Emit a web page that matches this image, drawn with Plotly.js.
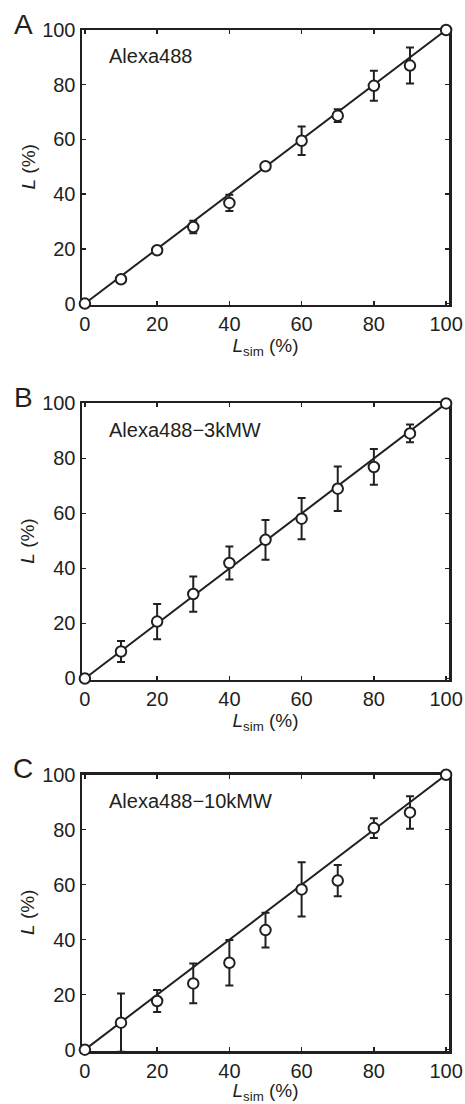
<!DOCTYPE html>
<html><head><meta charset="utf-8">
<script src="https://cdn.plot.ly/plotly-3.0.1.min.js"></script>
<style>html,body{margin:0;padding:0;background:#fff}</style>
</head><body><div id="chart" style="width:465px;height:1104px"></div>
<script>
// ---- data ----
const lsim = [0, 10, 20, 30, 40, 50, 60, 70, 80, 90, 100];
const yA = [0, 8.9, 19.5, 28.0, 36.8, 50.2, 59.5, 68.7, 79.6, 87.0, 100];
const eA = [0, 0.5, 0.5, 2.3, 3.0, 0.5, 5.2, 2.3, 5.5, 6.6, 0];
const yB = [0, 9.8, 20.7, 30.7, 42.0, 50.4, 58.1, 69.0, 76.9, 89.1, 100];
const eB = [0, 3.8, 6.4, 6.4, 6.0, 7.2, 7.5, 8.1, 6.5, 3.2, 0];
const yC = [0, 9.8, 17.7, 24.1, 31.6, 43.5, 58.3, 61.5, 80.6, 86.3, 100];
const eC = [0, 10.6, 4.0, 7.2, 8.3, 6.3, 9.9, 5.7, 3.6, 5.9, 0];
const lineX = [0, 100];
const lineY = [0, 100];
const panelLetters = ['A', 'B', 'C'];
const dyeLabels = ['Alexa488', 'Alexa488\u22123kMW', 'Alexa488\u221210kMW'];
const tickVals = [0, 20, 40, 60, 80, 100];
const xTitle = '<i>L</i><sub>sim</sub> (%)';
const yTitle = '<i>L</i> (%)';

const ink = '#231f20';
const FONT = 'Liberation Sans, Arial, Helvetica, sans-serif';

// ---- layout geometry (pixels) ----
const W = 465, H = 1104;
const L = 82, R = 449.5, T = 29.5, B = 1051.5;
const boxes = [[29.5, 304.7], [403.3, 680], [775, 1051.5]];
const py = p => (B - p) / (B - T);
const px = p => (p - L) / (R - L);

const sets = [[yA, eA], [yB, eB], [yC, eC]];
const traces = [];
const layout = {
  width: W, height: H,
  margin: {l: L, r: W - R, t: T, b: H - B, pad: 0},
  paper_bgcolor: '#fff', plot_bgcolor: '#fff',
  showlegend: false,
  font: {family: FONT, color: ink},
  annotations: []
};

sets.forEach((s, i) => {
  const n = i === 0 ? '' : String(i + 1);
  const xa = 'x' + n, ya = 'y' + n;
  traces.push({x: lineX, y: lineY, xaxis: xa, yaxis: ya, mode: 'lines',
    line: {color: ink, width: 2}, hoverinfo: 'skip', cliponaxis: false});
  traces.push({x: lsim, y: s[0], xaxis: xa, yaxis: ya, mode: 'markers',
    marker: {size: 1, opacity: 0}, cliponaxis: true,
    error_y: {type: 'data', array: s[1], symmetric: true, color: ink, thickness: 2, width: 4}});
  traces.push({x: lsim, y: s[0], xaxis: xa, yaxis: ya, mode: 'markers',
    marker: {symbol: 'circle', size: 10.5, color: '#fff', line: {color: ink, width: 2}},
    cliponaxis: false});
  const common = {
    showline: true, linewidth: 2.5, linecolor: ink, mirror: 'allticks',
    ticks: 'inside', ticklen: 4, tickwidth: 1.5, tickcolor: ink,
    tickvals: tickVals, showgrid: false, zeroline: false, layer: 'below traces',
    tickfont: {family: FONT, size: 20, color: ink}
  };
  layout['xaxis' + n] = Object.assign({}, common, {
    domain: [0, 1], anchor: ya, range: [-0.8, 100.8],
    title: {text: xTitle, font: {family: FONT, size: 19, color: ink}, standoff: 2}
  });
  layout['yaxis' + n] = Object.assign({}, common, {
    domain: [py(boxes[i][1]), py(boxes[i][0])], anchor: xa, range: [-0.5, 100]
  });
  layout.annotations.push({xref: 'paper', yref: ya + ' domain', x: px(28), y: 0.5,
    xanchor: 'center', yanchor: 'middle', textangle: -90,
    text: yTitle, showarrow: false, font: {family: FONT, size: 19, color: ink}});
  layout.annotations.push({xref: xa, yref: ya, x: 6, y: 90.5, xanchor: 'left', yanchor: 'middle',
    text: dyeLabels[i], showarrow: false, font: {family: FONT, size: 20, color: ink}});
  layout.annotations.push({xref: 'paper', yref: 'paper', x: px(23), y: py(boxes[i][0] - 6),
    xanchor: 'center', yanchor: 'middle',
    text: panelLetters[i], showarrow: false, font: {family: FONT, size: 28, color: ink}});
});

Plotly.newPlot('chart', traces, layout, {staticPlot: true, displayModeBar: false});
</script></body></html>
